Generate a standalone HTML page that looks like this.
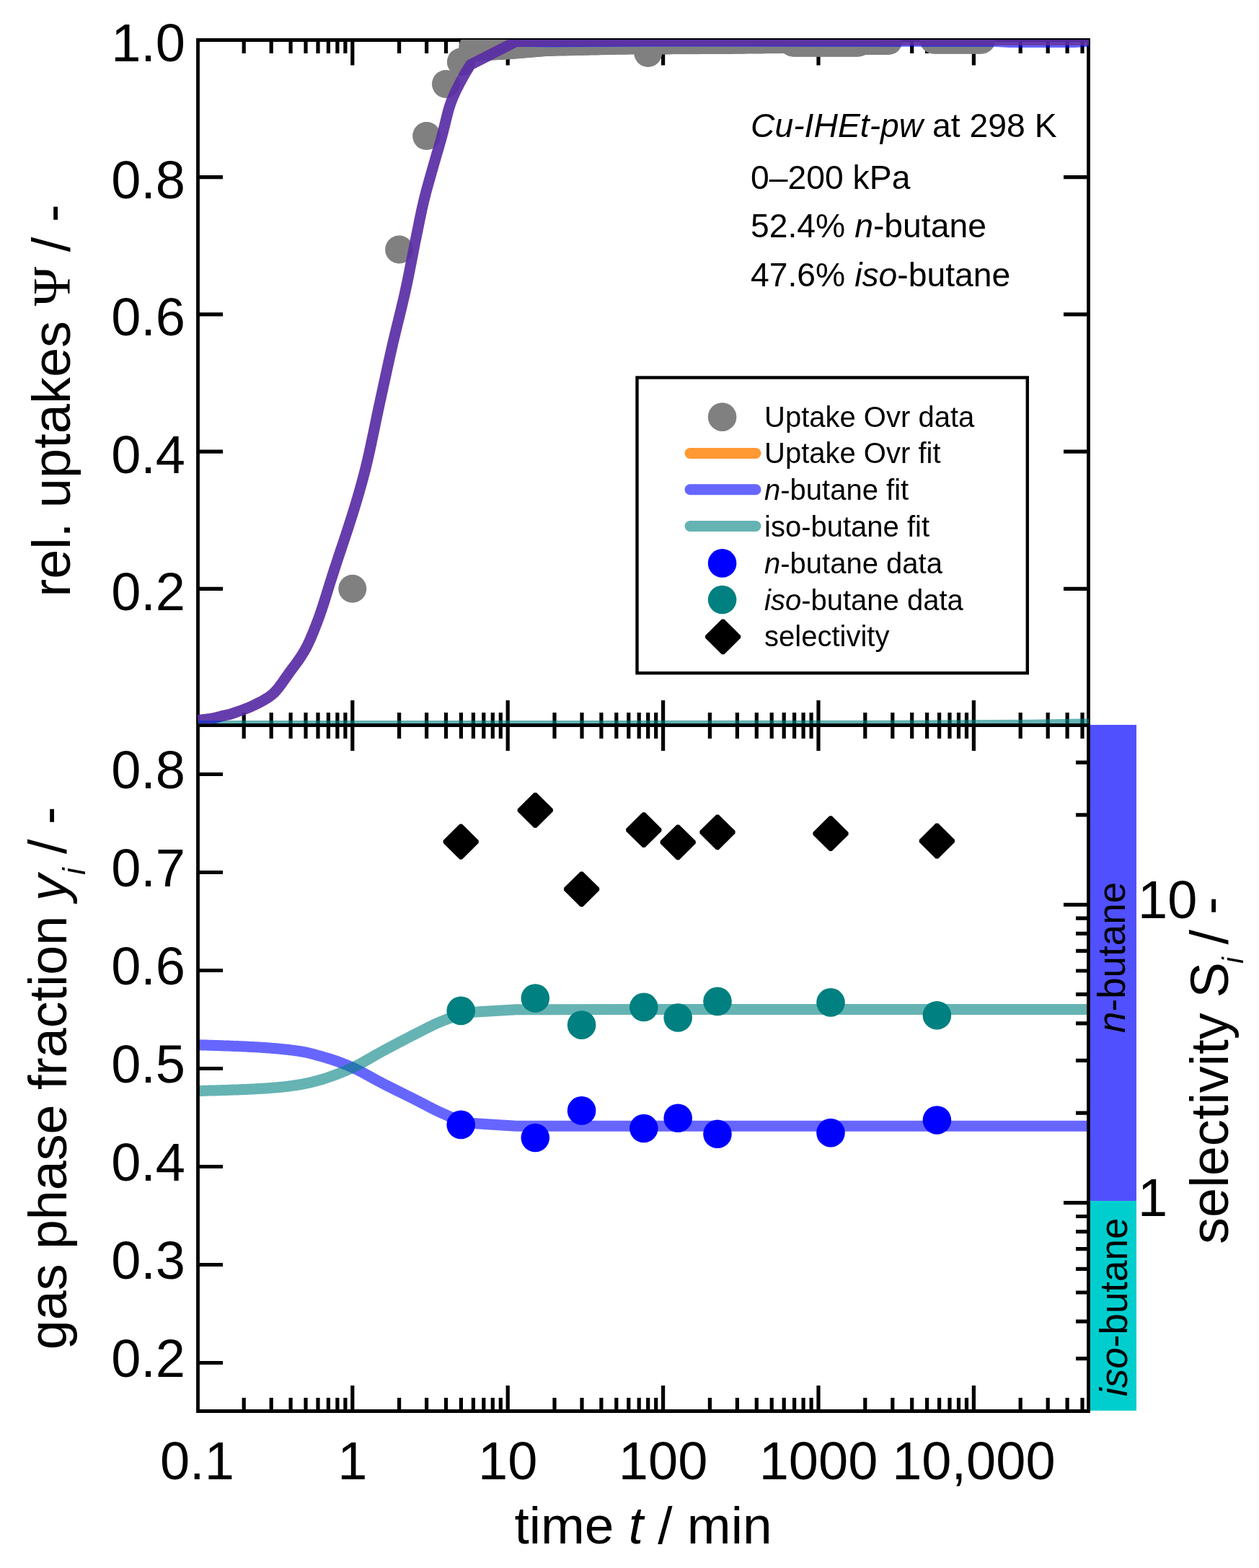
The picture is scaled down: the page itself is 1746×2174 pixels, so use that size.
<!DOCTYPE html>
<html><head><meta charset="utf-8"><title>uptake</title><style>html,body{margin:0;padding:0;background:#fff;}svg{display:block;}</style></head><body>
<svg xmlns="http://www.w3.org/2000/svg" width="1746" height="2174" viewBox="0 0 1746 2174">
<defs>
<clipPath id="ct"><rect x="273.5" y="55" width="1236.5" height="948.2"/></clipPath>
<clipPath id="cb"><rect x="274.5" y="1005.5" width="1235.0" height="951.0"/></clipPath>
</defs>
<rect width="1746" height="2174" fill="#fff"/>
<rect x="1511.5" y="1005.0" width="64.5" height="660.1" fill="#5050ff"/>
<rect x="1511.5" y="1665.1" width="64.5" height="290.7" fill="#00cece"/>
<path d="M338.2 55.5 V74.0 M338.2 988.0 V1024.0 M338.2 1956.5 V1938.0 M376.2 55.5 V74.0 M376.2 988.0 V1024.0 M376.2 1956.5 V1938.0 M403.1 55.5 V74.0 M403.1 988.0 V1024.0 M403.1 1956.5 V1938.0 M424.0 55.5 V74.0 M424.0 988.0 V1024.0 M424.0 1956.5 V1938.0 M441.0 55.5 V74.0 M441.0 988.0 V1024.0 M441.0 1956.5 V1938.0 M455.4 55.5 V74.0 M455.4 988.0 V1024.0 M455.4 1956.5 V1938.0 M467.9 55.5 V74.0 M467.9 988.0 V1024.0 M467.9 1956.5 V1938.0 M478.9 55.5 V74.0 M478.9 988.0 V1024.0 M478.9 1956.5 V1938.0 M553.6 55.5 V74.0 M553.6 988.0 V1024.0 M553.6 1956.5 V1938.0 M591.6 55.5 V74.0 M591.6 988.0 V1024.0 M591.6 1956.5 V1938.0 M618.5 55.5 V74.0 M618.5 988.0 V1024.0 M618.5 1956.5 V1938.0 M639.4 55.5 V74.0 M639.4 988.0 V1024.0 M639.4 1956.5 V1938.0 M656.4 55.5 V74.0 M656.4 988.0 V1024.0 M656.4 1956.5 V1938.0 M670.8 55.5 V74.0 M670.8 988.0 V1024.0 M670.8 1956.5 V1938.0 M683.3 55.5 V74.0 M683.3 988.0 V1024.0 M683.3 1956.5 V1938.0 M694.3 55.5 V74.0 M694.3 988.0 V1024.0 M694.3 1956.5 V1938.0 M769.0 55.5 V74.0 M769.0 988.0 V1024.0 M769.0 1956.5 V1938.0 M807.0 55.5 V74.0 M807.0 988.0 V1024.0 M807.0 1956.5 V1938.0 M833.9 55.5 V74.0 M833.9 988.0 V1024.0 M833.9 1956.5 V1938.0 M854.8 55.5 V74.0 M854.8 988.0 V1024.0 M854.8 1956.5 V1938.0 M871.8 55.5 V74.0 M871.8 988.0 V1024.0 M871.8 1956.5 V1938.0 M886.2 55.5 V74.0 M886.2 988.0 V1024.0 M886.2 1956.5 V1938.0 M898.7 55.5 V74.0 M898.7 988.0 V1024.0 M898.7 1956.5 V1938.0 M909.7 55.5 V74.0 M909.7 988.0 V1024.0 M909.7 1956.5 V1938.0 M984.4 55.5 V74.0 M984.4 988.0 V1024.0 M984.4 1956.5 V1938.0 M1022.4 55.5 V74.0 M1022.4 988.0 V1024.0 M1022.4 1956.5 V1938.0 M1049.3 55.5 V74.0 M1049.3 988.0 V1024.0 M1049.3 1956.5 V1938.0 M1070.2 55.5 V74.0 M1070.2 988.0 V1024.0 M1070.2 1956.5 V1938.0 M1087.2 55.5 V74.0 M1087.2 988.0 V1024.0 M1087.2 1956.5 V1938.0 M1101.6 55.5 V74.0 M1101.6 988.0 V1024.0 M1101.6 1956.5 V1938.0 M1114.1 55.5 V74.0 M1114.1 988.0 V1024.0 M1114.1 1956.5 V1938.0 M1125.1 55.5 V74.0 M1125.1 988.0 V1024.0 M1125.1 1956.5 V1938.0 M1199.8 55.5 V74.0 M1199.8 988.0 V1024.0 M1199.8 1956.5 V1938.0 M1237.8 55.5 V74.0 M1237.8 988.0 V1024.0 M1237.8 1956.5 V1938.0 M1264.7 55.5 V74.0 M1264.7 988.0 V1024.0 M1264.7 1956.5 V1938.0 M1285.6 55.5 V74.0 M1285.6 988.0 V1024.0 M1285.6 1956.5 V1938.0 M1302.6 55.5 V74.0 M1302.6 988.0 V1024.0 M1302.6 1956.5 V1938.0 M1317.0 55.5 V74.0 M1317.0 988.0 V1024.0 M1317.0 1956.5 V1938.0 M1329.5 55.5 V74.0 M1329.5 988.0 V1024.0 M1329.5 1956.5 V1938.0 M1340.5 55.5 V74.0 M1340.5 988.0 V1024.0 M1340.5 1956.5 V1938.0 M1415.2 55.5 V74.0 M1415.2 988.0 V1024.0 M1415.2 1956.5 V1938.0 M1453.2 55.5 V74.0 M1453.2 988.0 V1024.0 M1453.2 1956.5 V1938.0 M1480.1 55.5 V74.0 M1480.1 988.0 V1024.0 M1480.1 1956.5 V1938.0 M1501.0 55.5 V74.0 M1501.0 988.0 V1024.0 M1501.0 1956.5 V1938.0 M488.8 55.5 V90.5 M488.8 971.0 V1041.0 M488.8 1956.5 V1921.0 M704.2 55.5 V90.5 M704.2 971.0 V1041.0 M704.2 1956.5 V1921.0 M919.6 55.5 V90.5 M919.6 971.0 V1041.0 M919.6 1956.5 V1921.0 M1135.0 55.5 V90.5 M1135.0 971.0 V1041.0 M1135.0 1956.5 V1921.0 M1350.4 55.5 V90.5 M1350.4 971.0 V1041.0 M1350.4 1956.5 V1921.0 M274.5 816.3 H309.0 M1475.0 816.3 H1509.5 M274.5 626.1 H309.0 M1475.0 626.1 H1509.5 M274.5 435.9 H309.0 M1475.0 435.9 H1509.5 M274.5 245.7 H309.0 M1475.0 245.7 H1509.5 M274.5 1889.5 H309.0 M274.5 1753.5 H309.0 M274.5 1617.5 H309.0 M274.5 1481.5 H309.0 M274.5 1345.5 H309.0 M274.5 1209.5 H309.0 M274.5 1073.5 H309.0 M1492.0 1883.7 H1509.5 M1492.0 1832.1 H1509.5 M1492.0 1792.0 H1509.5 M1492.0 1759.3 H1509.5 M1492.0 1731.6 H1509.5 M1492.0 1707.7 H1509.5 M1492.0 1686.5 H1509.5 M1475.0 1667.6 H1509.5 M1492.0 1543.2 H1509.5 M1492.0 1470.4 H1509.5 M1492.0 1418.8 H1509.5 M1492.0 1378.7 H1509.5 M1492.0 1346.0 H1509.5 M1492.0 1318.3 H1509.5 M1492.0 1294.4 H1509.5 M1492.0 1273.2 H1509.5 M1475.0 1254.3 H1509.5 M1492.0 1129.9 H1509.5 M1492.0 1057.1 H1509.5" stroke="#000" stroke-width="5.2" fill="none"/>
<g clip-path="url(#cb)">
<path d="M274.5,1448.7 L276.0,1448.8 L277.5,1448.8 L279.0,1448.9 L280.5,1448.9 L282.0,1449.0 L283.5,1449.0 L285.0,1449.1 L286.5,1449.1 L288.0,1449.2 L289.5,1449.2 L291.0,1449.3 L292.5,1449.3 L294.0,1449.3 L295.5,1449.4 L297.0,1449.4 L298.5,1449.5 L300.0,1449.5 L301.5,1449.6 L303.0,1449.6 L304.5,1449.7 L306.0,1449.7 L307.5,1449.8 L309.0,1449.8 L310.5,1449.9 L312.0,1449.9 L313.5,1450.0 L315.0,1450.0 L316.5,1450.1 L318.0,1450.1 L319.5,1450.2 L321.0,1450.2 L322.5,1450.3 L324.0,1450.4 L325.5,1450.4 L327.0,1450.5 L328.5,1450.5 L330.0,1450.6 L331.5,1450.7 L333.0,1450.7 L334.5,1450.8 L336.0,1450.8 L337.5,1450.9 L339.0,1451.0 L340.5,1451.1 L342.0,1451.1 L343.5,1451.2 L345.0,1451.3 L346.5,1451.4 L348.0,1451.4 L349.5,1451.5 L351.0,1451.6 L352.5,1451.7 L354.0,1451.8 L355.5,1451.8 L357.0,1451.9 L358.5,1452.0 L360.0,1452.1 L361.5,1452.2 L363.0,1452.3 L364.5,1452.4 L366.0,1452.5 L367.5,1452.6 L369.0,1452.7 L370.5,1452.8 L372.0,1452.9 L373.5,1453.0 L375.0,1453.1 L376.5,1453.3 L378.0,1453.4 L379.5,1453.5 L381.0,1453.6 L382.5,1453.7 L384.0,1453.9 L385.5,1454.0 L387.0,1454.1 L388.5,1454.3 L390.0,1454.4 L391.5,1454.6 L393.0,1454.7 L394.5,1454.9 L396.0,1455.0 L397.5,1455.2 L399.0,1455.3 L400.5,1455.5 L402.0,1455.7 L403.5,1455.9 L405.0,1456.1 L406.5,1456.3 L408.0,1456.5 L409.5,1456.7 L411.0,1456.9 L412.5,1457.1 L414.0,1457.3 L415.5,1457.6 L417.0,1457.8 L418.5,1458.0 L420.0,1458.3 L421.5,1458.5 L423.0,1458.8 L424.5,1459.1 L426.0,1459.5 L427.5,1459.8 L429.0,1460.2 L430.5,1460.5 L432.0,1460.9 L433.5,1461.3 L435.0,1461.7 L436.5,1462.1 L438.0,1462.6 L439.5,1463.0 L441.0,1463.4 L442.5,1463.8 L444.0,1464.2 L445.5,1464.6 L447.0,1465.1 L448.5,1465.5 L450.0,1465.9 L451.5,1466.4 L453.0,1466.8 L454.5,1467.3 L456.0,1467.7 L457.5,1468.2 L459.0,1468.7 L460.5,1469.2 L462.0,1469.6 L463.5,1470.1 L465.0,1470.7 L466.5,1471.2 L468.0,1471.7 L469.5,1472.2 L471.0,1472.8 L472.5,1473.3 L474.0,1473.9 L475.5,1474.5 L477.0,1475.1 L478.5,1475.7 L480.0,1476.3 L481.5,1476.9 L483.0,1477.5 L484.5,1478.2 L486.0,1478.9 L487.5,1479.5 L489.0,1480.2 L490.5,1480.9 L492.0,1481.6 L493.5,1482.3 L495.0,1483.0 L496.5,1483.7 L498.0,1484.5 L499.5,1485.3 L501.0,1486.0 L502.5,1486.8 L504.0,1487.6 L505.5,1488.4 L507.0,1489.3 L508.5,1490.1 L510.0,1490.9 L511.5,1491.7 L513.0,1492.6 L514.5,1493.4 L516.0,1494.2 L517.5,1495.1 L519.0,1495.9 L520.5,1496.7 L522.0,1497.5 L523.5,1498.3 L525.0,1499.1 L526.5,1499.9 L528.0,1500.7 L529.5,1501.5 L531.0,1502.3 L532.5,1503.0 L534.0,1503.8 L535.5,1504.6 L537.0,1505.3 L538.5,1506.1 L540.0,1506.8 L541.5,1507.6 L543.0,1508.3 L544.5,1509.1 L546.0,1509.8 L547.5,1510.6 L549.0,1511.3 L550.5,1512.1 L552.0,1512.8 L553.5,1513.6 L555.0,1514.3 L556.5,1515.0 L558.0,1515.8 L559.5,1516.5 L561.0,1517.3 L562.5,1518.0 L564.0,1518.8 L565.5,1519.5 L567.0,1520.3 L568.5,1521.0 L570.0,1521.7 L571.5,1522.5 L573.0,1523.2 L574.5,1524.0 L576.0,1524.8 L577.5,1525.5 L579.0,1526.3 L580.5,1527.0 L582.0,1527.8 L583.5,1528.6 L585.0,1529.4 L586.5,1530.2 L588.0,1530.9 L589.5,1531.7 L591.0,1532.5 L592.5,1533.3 L594.0,1534.0 L595.5,1534.8 L597.0,1535.6 L598.5,1536.3 L600.0,1537.1 L601.5,1537.9 L603.0,1538.6 L604.5,1539.3 L606.0,1540.1 L607.5,1540.8 L609.0,1541.5 L610.5,1542.2 L612.0,1542.9 L613.5,1543.6 L615.0,1544.3 L616.5,1544.9 L618.0,1545.6 L619.5,1546.3 L621.0,1546.9 L622.5,1547.6 L624.0,1548.2 L625.5,1548.8 L627.0,1549.4 L628.5,1549.9 L630.0,1550.4 L631.5,1550.9 L633.0,1551.4 L634.5,1551.9 L636.0,1552.4 L637.5,1552.8 L639.0,1553.3 L640.5,1553.7 L642.0,1554.2 L643.5,1554.6 L645.0,1555.1 L646.5,1555.5 L648.0,1556.0 L649.5,1556.4 L651.0,1556.9 L652.4,1557.3 L716.0,1561.3 L900.0,1561.3 L1512.0,1561.3" stroke="rgba(0,0,255,0.6)" stroke-width="15" fill="none" stroke-linejoin="round"/>
<path d="M274.5,1512.6 L276.0,1512.6 L277.5,1512.5 L279.0,1512.5 L280.5,1512.4 L282.0,1512.4 L283.5,1512.3 L285.0,1512.3 L286.5,1512.2 L288.0,1512.2 L289.5,1512.1 L291.0,1512.1 L292.5,1512.1 L294.0,1512.0 L295.5,1512.0 L297.0,1511.9 L298.5,1511.9 L300.0,1511.8 L301.5,1511.8 L303.0,1511.8 L304.5,1511.7 L306.0,1511.7 L307.5,1511.6 L309.0,1511.6 L310.5,1511.5 L312.0,1511.5 L313.5,1511.4 L315.0,1511.4 L316.5,1511.3 L318.0,1511.3 L319.5,1511.2 L321.0,1511.2 L322.5,1511.1 L324.0,1511.1 L325.5,1511.0 L327.0,1511.0 L328.5,1510.9 L330.0,1510.9 L331.5,1510.8 L333.0,1510.8 L334.5,1510.7 L336.0,1510.6 L337.5,1510.6 L339.0,1510.5 L340.5,1510.4 L342.0,1510.4 L343.5,1510.3 L345.0,1510.2 L346.5,1510.2 L348.0,1510.1 L349.5,1510.0 L351.0,1509.9 L352.5,1509.9 L354.0,1509.8 L355.5,1509.7 L357.0,1509.6 L358.5,1509.5 L360.0,1509.4 L361.5,1509.4 L363.0,1509.3 L364.5,1509.2 L366.0,1509.1 L367.5,1509.0 L369.0,1508.9 L370.5,1508.8 L372.0,1508.7 L373.5,1508.6 L375.0,1508.4 L376.5,1508.3 L378.0,1508.2 L379.5,1508.1 L381.0,1508.0 L382.5,1507.9 L384.0,1507.7 L385.5,1507.6 L387.0,1507.5 L388.5,1507.3 L390.0,1507.2 L391.5,1507.0 L393.0,1506.9 L394.5,1506.7 L396.0,1506.5 L397.5,1506.4 L399.0,1506.2 L400.5,1506.0 L402.0,1505.8 L403.5,1505.6 L405.0,1505.4 L406.5,1505.2 L408.0,1504.9 L409.5,1504.7 L411.0,1504.5 L412.5,1504.3 L414.0,1504.0 L415.5,1503.8 L417.0,1503.5 L418.5,1503.3 L420.0,1503.0 L421.5,1502.7 L423.0,1502.5 L424.5,1502.2 L426.0,1501.9 L427.5,1501.5 L429.0,1501.2 L430.5,1500.8 L432.0,1500.5 L433.5,1500.1 L435.0,1499.7 L436.5,1499.3 L438.0,1498.9 L439.5,1498.5 L441.0,1498.1 L442.5,1497.7 L444.0,1497.3 L445.5,1496.8 L447.0,1496.4 L448.5,1495.9 L450.0,1495.5 L451.5,1495.0 L453.0,1494.5 L454.5,1494.0 L456.0,1493.5 L457.5,1492.9 L459.0,1492.4 L460.5,1491.9 L462.0,1491.3 L463.5,1490.8 L465.0,1490.2 L466.5,1489.6 L468.0,1489.1 L469.5,1488.5 L471.0,1487.9 L472.5,1487.3 L474.0,1486.7 L475.5,1486.1 L477.0,1485.5 L478.5,1484.9 L480.0,1484.3 L481.5,1483.6 L483.0,1483.0 L484.5,1482.3 L486.0,1481.6 L487.5,1480.9 L489.0,1480.2 L490.5,1479.5 L492.0,1478.8 L493.5,1478.1 L495.0,1477.3 L496.5,1476.6 L498.0,1475.8 L499.5,1475.0 L501.0,1474.2 L502.5,1473.3 L504.0,1472.5 L505.5,1471.7 L507.0,1470.8 L508.5,1469.9 L510.0,1469.1 L511.5,1468.2 L513.0,1467.4 L514.5,1466.5 L516.0,1465.6 L517.5,1464.7 L519.0,1463.9 L520.5,1463.0 L522.0,1462.2 L523.5,1461.3 L525.0,1460.5 L526.5,1459.6 L528.0,1458.8 L529.5,1458.0 L531.0,1457.2 L532.5,1456.4 L534.0,1455.6 L535.5,1454.8 L537.0,1454.0 L538.5,1453.2 L540.0,1452.4 L541.5,1451.6 L543.0,1450.8 L544.5,1450.0 L546.0,1449.2 L547.5,1448.4 L549.0,1447.6 L550.5,1446.8 L552.0,1446.0 L553.5,1445.2 L555.0,1444.4 L556.5,1443.7 L558.0,1442.9 L559.5,1442.1 L561.0,1441.3 L562.5,1440.5 L564.0,1439.8 L565.5,1439.0 L567.0,1438.2 L568.5,1437.5 L570.0,1436.7 L571.5,1435.9 L573.0,1435.2 L574.5,1434.4 L576.0,1433.6 L577.5,1432.9 L579.0,1432.1 L580.5,1431.4 L582.0,1430.6 L583.5,1429.8 L585.0,1429.0 L586.5,1428.3 L588.0,1427.5 L589.5,1426.7 L591.0,1426.0 L592.5,1425.2 L594.0,1424.5 L595.5,1423.7 L597.0,1423.0 L598.5,1422.3 L600.0,1421.5 L601.5,1420.8 L603.0,1420.1 L604.5,1419.4 L606.0,1418.8 L607.5,1418.1 L609.0,1417.5 L610.5,1416.8 L612.0,1416.2 L613.5,1415.6 L615.0,1415.0 L616.5,1414.4 L618.0,1413.8 L619.5,1413.3 L621.0,1412.7 L622.5,1412.2 L624.0,1411.6 L625.5,1411.1 L627.0,1410.6 L628.5,1410.2 L630.0,1409.7 L631.5,1409.2 L633.0,1408.8 L634.5,1408.4 L636.0,1408.0 L637.5,1407.6 L639.0,1407.1 L640.5,1406.8 L642.0,1406.4 L643.5,1406.0 L645.0,1405.6 L646.5,1405.2 L648.0,1404.8 L649.5,1404.4 L651.0,1404.0 L652.4,1403.6 L716.0,1399.8 L900.0,1399.6 L1512.0,1399.6" stroke="rgba(0,128,128,0.6)" stroke-width="15" fill="none" stroke-linejoin="round"/>
<g fill="#008080"><circle cx="639.2" cy="1401.4" r="19.8"/><circle cx="742.3" cy="1384.0" r="19.8"/><circle cx="806.6" cy="1421.1" r="19.8"/><circle cx="892.8" cy="1396.4" r="19.8"/><circle cx="940.2" cy="1411.0" r="19.8"/><circle cx="995.0" cy="1388.4" r="19.8"/><circle cx="1152.0" cy="1389.9" r="19.8"/><circle cx="1299.4" cy="1407.8" r="19.8"/></g>
<g fill="#0000ff"><circle cx="639.2" cy="1559.4" r="19.8"/><circle cx="742.3" cy="1577.5" r="19.8"/><circle cx="806.6" cy="1539.9" r="19.8"/><circle cx="892.8" cy="1564.5" r="19.8"/><circle cx="940.2" cy="1550.3" r="19.8"/><circle cx="995.0" cy="1572.3" r="19.8"/><circle cx="1152.0" cy="1570.6" r="19.8"/><circle cx="1299.4" cy="1553.0" r="19.8"/></g>
<g fill="#000"><path d="M637.5 1142.6 L640.9 1142.6 L663.8 1165.3 L663.8 1168.7 L640.9 1191.4 L637.5 1191.4 L614.6 1168.7 L614.6 1165.3 Z"/><path d="M740.6 1099.0 L744.0 1099.0 L766.9 1121.7 L766.9 1125.1 L744.0 1147.8 L740.6 1147.8 L717.7 1125.1 L717.7 1121.7 Z"/><path d="M804.9 1208.4 L808.3 1208.4 L831.2 1231.1 L831.2 1234.5 L808.3 1257.2 L804.9 1257.2 L782.0 1234.5 L782.0 1231.1 Z"/><path d="M891.1 1126.3 L894.5 1126.3 L917.4 1149.0 L917.4 1152.4 L894.5 1175.1 L891.1 1175.1 L868.2 1152.4 L868.2 1149.0 Z"/><path d="M938.5 1143.4 L941.9 1143.4 L964.8 1166.1 L964.8 1169.5 L941.9 1192.2 L938.5 1192.2 L915.6 1169.5 L915.6 1166.1 Z"/><path d="M993.3 1129.4 L996.7 1129.4 L1019.6 1152.1 L1019.6 1155.5 L996.7 1178.2 L993.3 1178.2 L970.4 1155.5 L970.4 1152.1 Z"/><path d="M1150.3 1131.3 L1153.7 1131.3 L1176.6 1154.0 L1176.6 1157.4 L1153.7 1180.1 L1150.3 1180.1 L1127.4 1157.4 L1127.4 1154.0 Z"/><path d="M1297.7 1141.6 L1301.1 1141.6 L1324.0 1164.3 L1324.0 1167.7 L1301.1 1190.4 L1297.7 1190.4 L1274.8 1167.7 L1274.8 1164.3 Z"/></g>
</g>
<path d="M274.5 55.5 H1509.5 V1956.5 H274.5 Z M274.5 1005.5 H1509.5" stroke="#000" stroke-width="4.8" fill="none" stroke-linecap="square"/>
<g clip-path="url(#ct)">
<g fill="#808080"><circle cx="488.8" cy="816.3" r="19.5"/><circle cx="553.6" cy="346.0" r="19.5"/><circle cx="591.6" cy="188.6" r="19.5"/><circle cx="618.5" cy="116.4" r="19.5"/><circle cx="639.4" cy="85.9" r="19.5"/><circle cx="656.4" cy="65.0" r="19.5"/><circle cx="670.8" cy="63.1" r="19.5"/><circle cx="656.0" cy="65.7" r="19.5"/><circle cx="659.0" cy="65.5" r="19.5"/><circle cx="662.0" cy="65.3" r="19.5"/><circle cx="665.0" cy="65.1" r="19.5"/><circle cx="668.0" cy="65.0" r="19.5"/><circle cx="671.0" cy="64.8" r="19.5"/><circle cx="674.0" cy="64.6" r="19.5"/><circle cx="677.0" cy="64.5" r="19.5"/><circle cx="680.0" cy="64.3" r="19.5"/><circle cx="683.0" cy="64.1" r="19.5"/><circle cx="686.0" cy="63.9" r="19.5"/><circle cx="689.0" cy="63.8" r="19.5"/><circle cx="692.0" cy="63.6" r="19.5"/><circle cx="695.0" cy="63.4" r="19.5"/><circle cx="698.0" cy="63.3" r="19.5"/><circle cx="701.0" cy="63.1" r="19.5"/><circle cx="704.0" cy="62.9" r="19.5"/><circle cx="707.0" cy="62.7" r="19.5"/><circle cx="710.0" cy="62.5" r="19.5"/><circle cx="713.0" cy="62.2" r="19.5"/><circle cx="716.0" cy="62.0" r="19.5"/><circle cx="719.0" cy="61.7" r="19.5"/><circle cx="722.0" cy="61.5" r="19.5"/><circle cx="725.0" cy="61.3" r="19.5"/><circle cx="728.0" cy="61.0" r="19.5"/><circle cx="731.0" cy="60.8" r="19.5"/><circle cx="734.0" cy="60.5" r="19.5"/><circle cx="737.0" cy="60.3" r="19.5"/><circle cx="740.0" cy="60.0" r="19.5"/><circle cx="743.0" cy="59.8" r="19.5"/><circle cx="746.0" cy="59.5" r="19.5"/><circle cx="749.0" cy="59.3" r="19.5"/><circle cx="752.0" cy="59.1" r="19.5"/><circle cx="755.0" cy="58.8" r="19.5"/><circle cx="758.0" cy="58.6" r="19.5"/><circle cx="761.0" cy="58.4" r="19.5"/><circle cx="764.0" cy="58.3" r="19.5"/><circle cx="767.0" cy="58.2" r="19.5"/><circle cx="770.0" cy="58.2" r="19.5"/><circle cx="773.0" cy="58.1" r="19.5"/><circle cx="776.0" cy="58.0" r="19.5"/><circle cx="779.0" cy="58.0" r="19.5"/><circle cx="782.0" cy="57.9" r="19.5"/><circle cx="785.0" cy="57.9" r="19.5"/><circle cx="788.0" cy="57.8" r="19.5"/><circle cx="791.0" cy="57.7" r="19.5"/><circle cx="794.0" cy="57.7" r="19.5"/><circle cx="797.0" cy="57.6" r="19.5"/><circle cx="800.0" cy="57.5" r="19.5"/><circle cx="803.0" cy="57.5" r="19.5"/><circle cx="806.0" cy="57.4" r="19.5"/><circle cx="809.0" cy="57.3" r="19.5"/><circle cx="812.0" cy="57.3" r="19.5"/><circle cx="815.0" cy="57.2" r="19.5"/><circle cx="818.0" cy="57.1" r="19.5"/><circle cx="821.0" cy="57.1" r="19.5"/><circle cx="824.0" cy="57.0" r="19.5"/><circle cx="827.0" cy="56.9" r="19.5"/><circle cx="830.0" cy="56.9" r="19.5"/><circle cx="833.0" cy="56.8" r="19.5"/><circle cx="836.0" cy="56.7" r="19.5"/><circle cx="839.0" cy="56.7" r="19.5"/><circle cx="842.0" cy="56.6" r="19.5"/><circle cx="845.0" cy="56.5" r="19.5"/><circle cx="848.0" cy="56.5" r="19.5"/><circle cx="851.0" cy="56.4" r="19.5"/><circle cx="854.0" cy="56.3" r="19.5"/><circle cx="857.0" cy="56.3" r="19.5"/><circle cx="860.0" cy="56.2" r="19.5"/><circle cx="863.0" cy="56.2" r="19.5"/><circle cx="866.0" cy="56.2" r="19.5"/><circle cx="869.0" cy="56.2" r="19.5"/><circle cx="872.0" cy="56.1" r="19.5"/><circle cx="875.0" cy="56.1" r="19.5"/><circle cx="878.0" cy="56.1" r="19.5"/><circle cx="881.0" cy="56.1" r="19.5"/><circle cx="884.0" cy="56.1" r="19.5"/><circle cx="887.0" cy="56.1" r="19.5"/><circle cx="890.0" cy="56.1" r="19.5"/><circle cx="893.0" cy="56.0" r="19.5"/><circle cx="896.0" cy="56.0" r="19.5"/><circle cx="899.0" cy="56.0" r="19.5"/><circle cx="902.0" cy="56.0" r="19.5"/><circle cx="905.0" cy="56.0" r="19.5"/><circle cx="908.0" cy="56.0" r="19.5"/><circle cx="911.0" cy="55.9" r="19.5"/><circle cx="914.0" cy="55.9" r="19.5"/><circle cx="917.0" cy="55.9" r="19.5"/><circle cx="920.0" cy="55.9" r="19.5"/><circle cx="923.0" cy="55.9" r="19.5"/><circle cx="926.0" cy="55.9" r="19.5"/><circle cx="929.0" cy="55.9" r="19.5"/><circle cx="932.0" cy="55.8" r="19.5"/><circle cx="935.0" cy="55.8" r="19.5"/><circle cx="938.0" cy="55.8" r="19.5"/><circle cx="941.0" cy="55.8" r="19.5"/><circle cx="944.0" cy="55.8" r="19.5"/><circle cx="947.0" cy="55.8" r="19.5"/><circle cx="950.0" cy="55.8" r="19.5"/><circle cx="953.0" cy="55.7" r="19.5"/><circle cx="956.0" cy="55.7" r="19.5"/><circle cx="959.0" cy="55.7" r="19.5"/><circle cx="962.0" cy="55.7" r="19.5"/><circle cx="965.0" cy="55.7" r="19.5"/><circle cx="968.0" cy="55.7" r="19.5"/><circle cx="971.0" cy="55.6" r="19.5"/><circle cx="974.0" cy="55.6" r="19.5"/><circle cx="977.0" cy="55.6" r="19.5"/><circle cx="980.0" cy="55.6" r="19.5"/><circle cx="983.0" cy="55.6" r="19.5"/><circle cx="986.0" cy="55.6" r="19.5"/><circle cx="989.0" cy="55.6" r="19.5"/><circle cx="992.0" cy="55.5" r="19.5"/><circle cx="995.0" cy="55.5" r="19.5"/><circle cx="998.0" cy="55.5" r="19.5"/><circle cx="1001.0" cy="55.5" r="19.5"/><circle cx="1004.0" cy="55.5" r="19.5"/><circle cx="1007.0" cy="55.4" r="19.5"/><circle cx="1010.0" cy="55.4" r="19.5"/><circle cx="1013.0" cy="55.4" r="19.5"/><circle cx="1016.0" cy="55.3" r="19.5"/><circle cx="1019.0" cy="55.3" r="19.5"/><circle cx="1022.0" cy="55.3" r="19.5"/><circle cx="1025.0" cy="55.2" r="19.5"/><circle cx="1028.0" cy="55.2" r="19.5"/><circle cx="1031.0" cy="55.2" r="19.5"/><circle cx="1034.0" cy="55.1" r="19.5"/><circle cx="1037.0" cy="55.1" r="19.5"/><circle cx="1040.0" cy="55.1" r="19.5"/><circle cx="1043.0" cy="55.0" r="19.5"/><circle cx="1046.0" cy="55.0" r="19.5"/><circle cx="1049.0" cy="55.0" r="19.5"/><circle cx="1052.0" cy="54.9" r="19.5"/><circle cx="1055.0" cy="54.9" r="19.5"/><circle cx="1058.0" cy="54.9" r="19.5"/><circle cx="1061.0" cy="54.8" r="19.5"/><circle cx="1064.0" cy="54.8" r="19.5"/><circle cx="1067.0" cy="54.8" r="19.5"/><circle cx="1070.0" cy="54.7" r="19.5"/><circle cx="1073.0" cy="54.7" r="19.5"/><circle cx="1076.0" cy="54.7" r="19.5"/><circle cx="1079.0" cy="54.7" r="19.5"/><circle cx="1082.0" cy="54.6" r="19.5"/><circle cx="1085.0" cy="54.6" r="19.5"/><circle cx="1088.0" cy="54.6" r="19.5"/><circle cx="1091.0" cy="54.5" r="19.5"/><circle cx="1094.0" cy="55.2" r="19.5"/><circle cx="1097.0" cy="57.2" r="19.5"/><circle cx="1100.0" cy="59.3" r="19.5"/><circle cx="1103.0" cy="59.3" r="19.5"/><circle cx="1106.0" cy="59.3" r="19.5"/><circle cx="1109.0" cy="59.3" r="19.5"/><circle cx="1112.0" cy="59.3" r="19.5"/><circle cx="1115.0" cy="59.3" r="19.5"/><circle cx="1118.0" cy="59.3" r="19.5"/><circle cx="1121.0" cy="59.3" r="19.5"/><circle cx="1124.0" cy="59.3" r="19.5"/><circle cx="1127.0" cy="59.3" r="19.5"/><circle cx="1130.0" cy="59.3" r="19.5"/><circle cx="1133.0" cy="59.3" r="19.5"/><circle cx="1136.0" cy="59.3" r="19.5"/><circle cx="1139.0" cy="59.3" r="19.5"/><circle cx="1142.0" cy="59.3" r="19.5"/><circle cx="1145.0" cy="59.3" r="19.5"/><circle cx="1148.0" cy="59.3" r="19.5"/><circle cx="1151.0" cy="59.3" r="19.5"/><circle cx="1154.0" cy="59.3" r="19.5"/><circle cx="1157.0" cy="59.3" r="19.5"/><circle cx="1160.0" cy="59.3" r="19.5"/><circle cx="1163.0" cy="59.3" r="19.5"/><circle cx="1166.0" cy="59.3" r="19.5"/><circle cx="1169.0" cy="59.3" r="19.5"/><circle cx="1172.0" cy="59.3" r="19.5"/><circle cx="1175.0" cy="59.3" r="19.5"/><circle cx="1178.0" cy="59.3" r="19.5"/><circle cx="1181.0" cy="59.3" r="19.5"/><circle cx="1184.0" cy="59.3" r="19.5"/><circle cx="1187.0" cy="59.3" r="19.5"/><circle cx="1190.0" cy="59.3" r="19.5"/><circle cx="1193.0" cy="58.0" r="19.5"/><circle cx="1196.0" cy="56.6" r="19.5"/><circle cx="1199.0" cy="56.6" r="19.5"/><circle cx="1202.0" cy="56.6" r="19.5"/><circle cx="1205.0" cy="56.6" r="19.5"/><circle cx="1208.0" cy="56.6" r="19.5"/><circle cx="1211.0" cy="56.6" r="19.5"/><circle cx="1214.0" cy="56.6" r="19.5"/><circle cx="1217.0" cy="56.6" r="19.5"/><circle cx="1220.0" cy="56.6" r="19.5"/><circle cx="1223.0" cy="56.6" r="19.5"/><circle cx="1226.0" cy="56.6" r="19.5"/><circle cx="1229.0" cy="56.6" r="19.5"/><circle cx="1232.0" cy="56.6" r="19.5"/><circle cx="1295.0" cy="55.3" r="19.5"/><circle cx="1298.0" cy="55.3" r="19.5"/><circle cx="1301.0" cy="55.3" r="19.5"/><circle cx="1304.0" cy="55.3" r="19.5"/><circle cx="1307.0" cy="55.3" r="19.5"/><circle cx="1310.0" cy="55.3" r="19.5"/><circle cx="1313.0" cy="55.3" r="19.5"/><circle cx="1316.0" cy="55.3" r="19.5"/><circle cx="1319.0" cy="55.3" r="19.5"/><circle cx="1322.0" cy="55.3" r="19.5"/><circle cx="1325.0" cy="55.3" r="19.5"/><circle cx="1328.0" cy="55.3" r="19.5"/><circle cx="1331.0" cy="55.3" r="19.5"/><circle cx="1334.0" cy="55.3" r="19.5"/><circle cx="1337.0" cy="55.3" r="19.5"/><circle cx="1340.0" cy="55.3" r="19.5"/><circle cx="1343.0" cy="55.3" r="19.5"/><circle cx="1346.0" cy="55.3" r="19.5"/><circle cx="1349.0" cy="55.3" r="19.5"/><circle cx="1352.0" cy="55.3" r="19.5"/><circle cx="1355.0" cy="55.3" r="19.5"/><circle cx="1358.0" cy="55.3" r="19.5"/><circle cx="1361.0" cy="55.3" r="19.5"/><circle cx="898.7" cy="73.4" r="19.5"/></g>
<path d="M274.5,998.6 L276.0,998.4 L277.5,998.2 L279.0,998.1 L280.5,997.9 L282.0,997.7 L283.5,997.5 L285.0,997.4 L286.5,997.2 L288.0,997.0 L289.5,996.8 L291.0,996.6 L292.5,996.4 L294.0,996.1 L295.5,995.8 L297.0,995.5 L298.5,995.2 L300.0,994.9 L301.5,994.5 L303.0,994.1 L304.5,993.7 L306.0,993.3 L307.5,992.8 L309.0,992.4 L310.5,992.1 L312.0,991.8 L313.5,991.5 L315.0,991.2 L316.5,990.9 L318.0,990.6 L319.5,990.2 L321.0,989.7 L322.5,989.2 L324.0,988.6 L325.5,988.1 L327.0,987.6 L328.5,987.1 L330.0,986.5 L331.5,986.0 L333.0,985.5 L334.5,985.0 L336.0,984.5 L337.5,983.9 L339.0,983.4 L340.5,982.8 L342.0,982.2 L343.5,981.6 L345.0,981.0 L346.5,980.4 L348.0,979.7 L349.5,979.0 L351.0,978.3 L352.5,977.6 L354.0,976.9 L355.5,976.1 L357.0,975.4 L358.5,974.6 L360.0,973.9 L361.5,973.1 L363.0,972.3 L364.5,971.5 L366.0,970.6 L367.5,969.7 L369.0,968.8 L370.5,967.9 L372.0,966.9 L373.5,965.9 L375.0,964.8 L376.5,963.6 L378.0,962.4 L379.5,961.1 L381.0,959.6 L382.5,958.0 L384.0,956.3 L385.5,954.5 L387.0,952.6 L388.5,950.6 L390.0,948.6 L391.5,946.5 L393.0,944.3 L394.5,942.2 L396.0,940.0 L397.5,937.9 L399.0,935.8 L400.5,933.7 L402.0,931.6 L403.5,929.6 L405.0,927.6 L406.5,925.6 L408.0,923.6 L409.5,921.5 L411.0,919.5 L412.5,917.4 L414.0,915.3 L415.5,913.1 L417.0,910.8 L418.5,908.5 L420.0,906.1 L421.5,903.6 L423.0,901.0 L424.5,898.3 L426.0,895.4 L427.5,892.3 L429.0,889.1 L430.5,885.8 L432.0,882.3 L433.5,878.7 L435.0,875.1 L436.5,871.3 L438.0,867.4 L439.5,863.5 L441.0,859.6 L442.5,855.5 L444.0,851.3 L445.5,846.9 L447.0,842.4 L448.5,837.8 L450.0,833.1 L451.5,828.3 L453.0,823.5 L454.5,818.6 L456.0,813.8 L457.5,808.9 L459.0,804.2 L460.5,799.4 L462.0,794.8 L463.5,790.1 L465.0,785.5 L466.5,781.0 L468.0,776.5 L469.5,771.9 L471.0,767.4 L472.5,763.0 L474.0,758.5 L475.5,754.0 L477.0,749.5 L478.5,745.0 L480.0,740.5 L481.5,735.9 L483.0,731.3 L484.5,726.7 L486.0,722.0 L487.5,717.3 L489.0,712.6 L490.5,707.8 L492.0,702.9 L493.5,697.9 L495.0,692.9 L496.5,687.8 L498.0,682.6 L499.5,677.3 L501.0,672.0 L502.5,666.5 L504.0,660.9 L505.5,655.2 L507.0,649.3 L508.5,643.1 L510.0,636.7 L511.5,630.1 L513.0,623.3 L514.5,616.4 L516.0,609.3 L517.5,602.2 L519.0,595.0 L520.5,587.8 L522.0,580.5 L523.5,573.4 L525.0,566.3 L526.5,559.3 L528.0,552.4 L529.5,545.5 L531.0,538.6 L532.5,531.7 L534.0,524.8 L535.5,517.9 L537.0,511.0 L538.5,504.2 L540.0,497.4 L541.5,490.6 L543.0,484.0 L544.5,477.4 L546.0,471.0 L547.5,464.7 L549.0,458.4 L550.5,452.3 L552.0,446.2 L553.5,440.1 L555.0,434.0 L556.5,427.8 L558.0,421.5 L559.5,415.1 L561.0,408.6 L562.5,401.8 L564.0,394.9 L565.5,387.7 L567.0,380.2 L568.5,372.7 L570.0,365.0 L571.5,357.3 L573.0,349.6 L574.5,341.9 L576.0,334.4 L577.5,327.1 L579.0,319.7 L580.5,312.2 L582.0,304.8 L583.5,297.6 L585.0,290.5 L586.5,283.8 L588.0,277.5 L589.5,271.5 L591.0,265.7 L592.5,260.1 L594.0,254.7 L595.5,249.4 L597.0,244.1 L598.5,238.8 L600.0,233.5 L601.5,228.2 L603.0,223.0 L604.5,217.8 L606.0,212.7 L607.5,207.6 L609.0,202.4 L610.5,197.2 L612.0,191.9 L613.5,186.4 L615.0,180.5 L616.5,174.4 L618.0,168.2 L619.5,162.1 L621.0,156.2 L622.5,150.8 L624.0,145.9 L625.5,141.7 L627.0,137.8 L628.5,134.2 L630.0,130.7 L631.5,127.4 L633.0,124.3 L634.5,121.3 L636.0,118.3 L637.5,115.5 L639.0,112.7 L640.5,109.9 L642.0,107.1 L643.5,104.4 L645.0,101.9 L646.5,99.4 L648.0,96.9 L649.5,94.5 L651.0,92.0 L652.4,89.7 L716.0,57.3 L760.0,56.4 L900.0,55.8 L1512.0,55.5" stroke="rgba(255,128,0,0.8)" stroke-width="15" fill="none" stroke-linejoin="round"/>
<path d="M274.5 1006.5 L1200 1006.3 L1428 1005.3 L1472 1004.5 L1512 1003.8" stroke="rgba(0,128,128,0.6)" stroke-width="15" fill="none"/>
<path d="M274.5,998.6 L276.0,998.4 L277.5,998.2 L279.0,998.1 L280.5,997.9 L282.0,997.7 L283.5,997.5 L285.0,997.4 L286.5,997.2 L288.0,997.0 L289.5,996.8 L291.0,996.6 L292.5,996.4 L294.0,996.1 L295.5,995.8 L297.0,995.5 L298.5,995.2 L300.0,994.9 L301.5,994.5 L303.0,994.1 L304.5,993.7 L306.0,993.3 L307.5,992.8 L309.0,992.4 L310.5,992.1 L312.0,991.8 L313.5,991.5 L315.0,991.2 L316.5,990.9 L318.0,990.6 L319.5,990.2 L321.0,989.7 L322.5,989.2 L324.0,988.6 L325.5,988.1 L327.0,987.6 L328.5,987.1 L330.0,986.5 L331.5,986.0 L333.0,985.5 L334.5,985.0 L336.0,984.5 L337.5,983.9 L339.0,983.4 L340.5,982.8 L342.0,982.2 L343.5,981.6 L345.0,981.0 L346.5,980.4 L348.0,979.7 L349.5,979.0 L351.0,978.3 L352.5,977.6 L354.0,976.9 L355.5,976.1 L357.0,975.4 L358.5,974.6 L360.0,973.9 L361.5,973.1 L363.0,972.3 L364.5,971.5 L366.0,970.6 L367.5,969.7 L369.0,968.8 L370.5,967.9 L372.0,966.9 L373.5,965.9 L375.0,964.8 L376.5,963.6 L378.0,962.4 L379.5,961.1 L381.0,959.6 L382.5,958.0 L384.0,956.3 L385.5,954.5 L387.0,952.6 L388.5,950.6 L390.0,948.6 L391.5,946.5 L393.0,944.3 L394.5,942.2 L396.0,940.0 L397.5,937.9 L399.0,935.8 L400.5,933.7 L402.0,931.6 L403.5,929.6 L405.0,927.6 L406.5,925.6 L408.0,923.6 L409.5,921.5 L411.0,919.5 L412.5,917.4 L414.0,915.3 L415.5,913.1 L417.0,910.8 L418.5,908.5 L420.0,906.1 L421.5,903.6 L423.0,901.0 L424.5,898.3 L426.0,895.4 L427.5,892.3 L429.0,889.1 L430.5,885.8 L432.0,882.3 L433.5,878.7 L435.0,875.1 L436.5,871.3 L438.0,867.4 L439.5,863.5 L441.0,859.6 L442.5,855.5 L444.0,851.3 L445.5,846.9 L447.0,842.4 L448.5,837.8 L450.0,833.1 L451.5,828.3 L453.0,823.5 L454.5,818.6 L456.0,813.8 L457.5,808.9 L459.0,804.2 L460.5,799.4 L462.0,794.8 L463.5,790.1 L465.0,785.5 L466.5,781.0 L468.0,776.5 L469.5,771.9 L471.0,767.4 L472.5,763.0 L474.0,758.5 L475.5,754.0 L477.0,749.5 L478.5,745.0 L480.0,740.5 L481.5,735.9 L483.0,731.3 L484.5,726.7 L486.0,722.0 L487.5,717.3 L489.0,712.6 L490.5,707.8 L492.0,702.9 L493.5,697.9 L495.0,692.9 L496.5,687.8 L498.0,682.6 L499.5,677.3 L501.0,672.0 L502.5,666.5 L504.0,660.9 L505.5,655.2 L507.0,649.3 L508.5,643.1 L510.0,636.7 L511.5,630.1 L513.0,623.3 L514.5,616.4 L516.0,609.3 L517.5,602.2 L519.0,595.0 L520.5,587.8 L522.0,580.5 L523.5,573.4 L525.0,566.3 L526.5,559.3 L528.0,552.4 L529.5,545.5 L531.0,538.6 L532.5,531.7 L534.0,524.8 L535.5,517.9 L537.0,511.0 L538.5,504.2 L540.0,497.4 L541.5,490.6 L543.0,484.0 L544.5,477.4 L546.0,471.0 L547.5,464.7 L549.0,458.4 L550.5,452.3 L552.0,446.2 L553.5,440.1 L555.0,434.0 L556.5,427.8 L558.0,421.5 L559.5,415.1 L561.0,408.6 L562.5,401.8 L564.0,394.9 L565.5,387.7 L567.0,380.2 L568.5,372.7 L570.0,365.0 L571.5,357.3 L573.0,349.6 L574.5,341.9 L576.0,334.4 L577.5,327.1 L579.0,319.7 L580.5,312.2 L582.0,304.8 L583.5,297.6 L585.0,290.5 L586.5,283.8 L588.0,277.5 L589.5,271.5 L591.0,265.7 L592.5,260.1 L594.0,254.7 L595.5,249.4 L597.0,244.1 L598.5,238.8 L600.0,233.5 L601.5,228.2 L603.0,223.0 L604.5,217.8 L606.0,212.7 L607.5,207.6 L609.0,202.4 L610.5,197.2 L612.0,191.9 L613.5,186.4 L615.0,180.5 L616.5,174.4 L618.0,168.2 L619.5,162.1 L621.0,156.2 L622.5,150.8 L624.0,145.9 L625.5,141.7 L627.0,137.8 L628.5,134.2 L630.0,130.7 L631.5,127.4 L633.0,124.3 L634.5,121.3 L636.0,118.3 L637.5,115.5 L639.0,112.7 L640.5,109.9 L642.0,107.1 L643.5,104.4 L645.0,101.9 L646.5,99.4 L648.0,96.9 L649.5,94.5 L651.0,92.0 L652.4,89.7 L716.0,57.3 L760.0,57.7 L900.0,57.1 L1378.0,57.2 L1400.0,58.5 L1490.0,58.5 L1512.0,57.0" stroke="rgba(0,0,255,0.6)" stroke-width="15" fill="none" stroke-linejoin="round"/>
</g>
<g font-family="'Liberation Sans', Arial, Helvetica, sans-serif" fill="#000">
<text x="257" y="85.0" font-size="74" text-anchor="end">1.0</text>
<text x="257" y="275.2" font-size="74" text-anchor="end">0.8</text>
<text x="257" y="465.4" font-size="74" text-anchor="end">0.6</text>
<text x="257" y="655.6" font-size="74" text-anchor="end">0.4</text>
<text x="257" y="845.8" font-size="74" text-anchor="end">0.2</text>
<text x="257" y="1908.5" font-size="74" text-anchor="end">0.2</text>
<text x="257" y="1772.5" font-size="74" text-anchor="end">0.3</text>
<text x="257" y="1636.5" font-size="74" text-anchor="end">0.4</text>
<text x="257" y="1500.5" font-size="74" text-anchor="end">0.5</text>
<text x="257" y="1364.5" font-size="74" text-anchor="end">0.6</text>
<text x="257" y="1228.5" font-size="74" text-anchor="end">0.7</text>
<text x="257" y="1092.5" font-size="74" text-anchor="end">0.8</text>
<text x="273.4" y="2051" font-size="74" text-anchor="middle">0.1</text>
<text x="488.8" y="2051" font-size="74" text-anchor="middle">1</text>
<text x="704.2" y="2051" font-size="74" text-anchor="middle">10</text>
<text x="919.6" y="2051" font-size="74" text-anchor="middle">100</text>
<text x="1135.0" y="2051" font-size="74" text-anchor="middle">1000</text>
<text x="1350.4" y="2051" font-size="74" text-anchor="middle">10,000</text>
<text x="1070.5" y="2140" font-size="73" text-anchor="end">time <tspan font-style="italic">t</tspan> / min</text>
<text x="1578" y="1272.8" font-size="74">10</text>
<text x="1578" y="1686.1" font-size="74">1</text>
<text transform="translate(97 827.5) rotate(-90)" font-size="74">rel. uptakes <tspan font-family="'Liberation Serif', serif">&#936;</tspan> / -</text>
<g transform="translate(92 0) rotate(-90)" font-size="73.6"><text x="-1871.2" y="0">gas phase fraction <tspan font-style="italic">y</tspan></text><text x="-1213.0" y="26" font-style="italic" font-size="44">i</text><text x="-1184.0" y="0">/</text><text x="-1143.0" y="0">-</text></g>
<g transform="translate(1702.5 0) rotate(-90)" font-size="74"><text x="-1724.9" y="0">selectivity S</text><text x="-1336.0" y="21" font-style="italic" font-size="40">i</text><text x="-1309.5" y="0">/</text><text x="-1268.0" y="0">-</text></g>
<text transform="translate(1560 1432) rotate(-90)" font-size="53"><tspan font-style="italic">n</tspan>-butane</text>
<text transform="translate(1563 1936) rotate(-90)" font-size="53"><tspan font-style="italic">iso</tspan>-butane</text>
<g font-size="46.3">
<text x="1041" y="189.5"><tspan font-style="italic">Cu-IHEt-pw</tspan> at 298 K</text>
<text x="1041" y="261.5">0&#8211;200 kPa</text>
<text x="1041" y="328.5">52.4% <tspan font-style="italic">n</tspan>-butane</text>
<text x="1041" y="396.5">47.6% <tspan font-style="italic">iso</tspan>-butane</text>
</g>
<rect x="883.5" y="523.5" width="541.3" height="409.7" fill="none" stroke="#000" stroke-width="4.4"/>
<circle cx="1001.6" cy="578.1" r="19.8" fill="#808080"/>
<path d="M957 628.5 H1048" stroke="rgba(255,128,0,0.8)" stroke-width="15" stroke-linecap="round"/>
<path d="M957 678.8 H1048" stroke="rgba(0,0,255,0.6)" stroke-width="15" stroke-linecap="round"/>
<path d="M957 729.5 H1048" stroke="rgba(0,128,128,0.6)" stroke-width="15" stroke-linecap="round"/>
<circle cx="1001.6" cy="780.9" r="19.8" fill="#0000ff"/>
<circle cx="1001.6" cy="831.5" r="19.8" fill="#008080"/>
<path fill="#000" d="M1000.9 858.5 L1004.3 858.5 L1027.2 881.2 L1027.2 884.6 L1004.3 907.3 L1000.9 907.3 L978.0 884.6 L978.0 881.2 Z"/>
<g font-size="40">
<text x="1060" y="591.6">Uptake Ovr data</text>
<text x="1060" y="641.6">Uptake Ovr fit</text>
<text x="1060" y="692.6"><tspan font-style="italic">n</tspan>-butane fit</text>
<text x="1060" y="743.7">iso-butane fit</text>
<text x="1060" y="794.7"><tspan font-style="italic">n</tspan>-butane data</text>
<text x="1060" y="845.7"><tspan font-style="italic">iso</tspan>-butane data</text>
<text x="1060" y="895.7">selectivity</text>
</g>
</g>
</svg>
</body></html>
